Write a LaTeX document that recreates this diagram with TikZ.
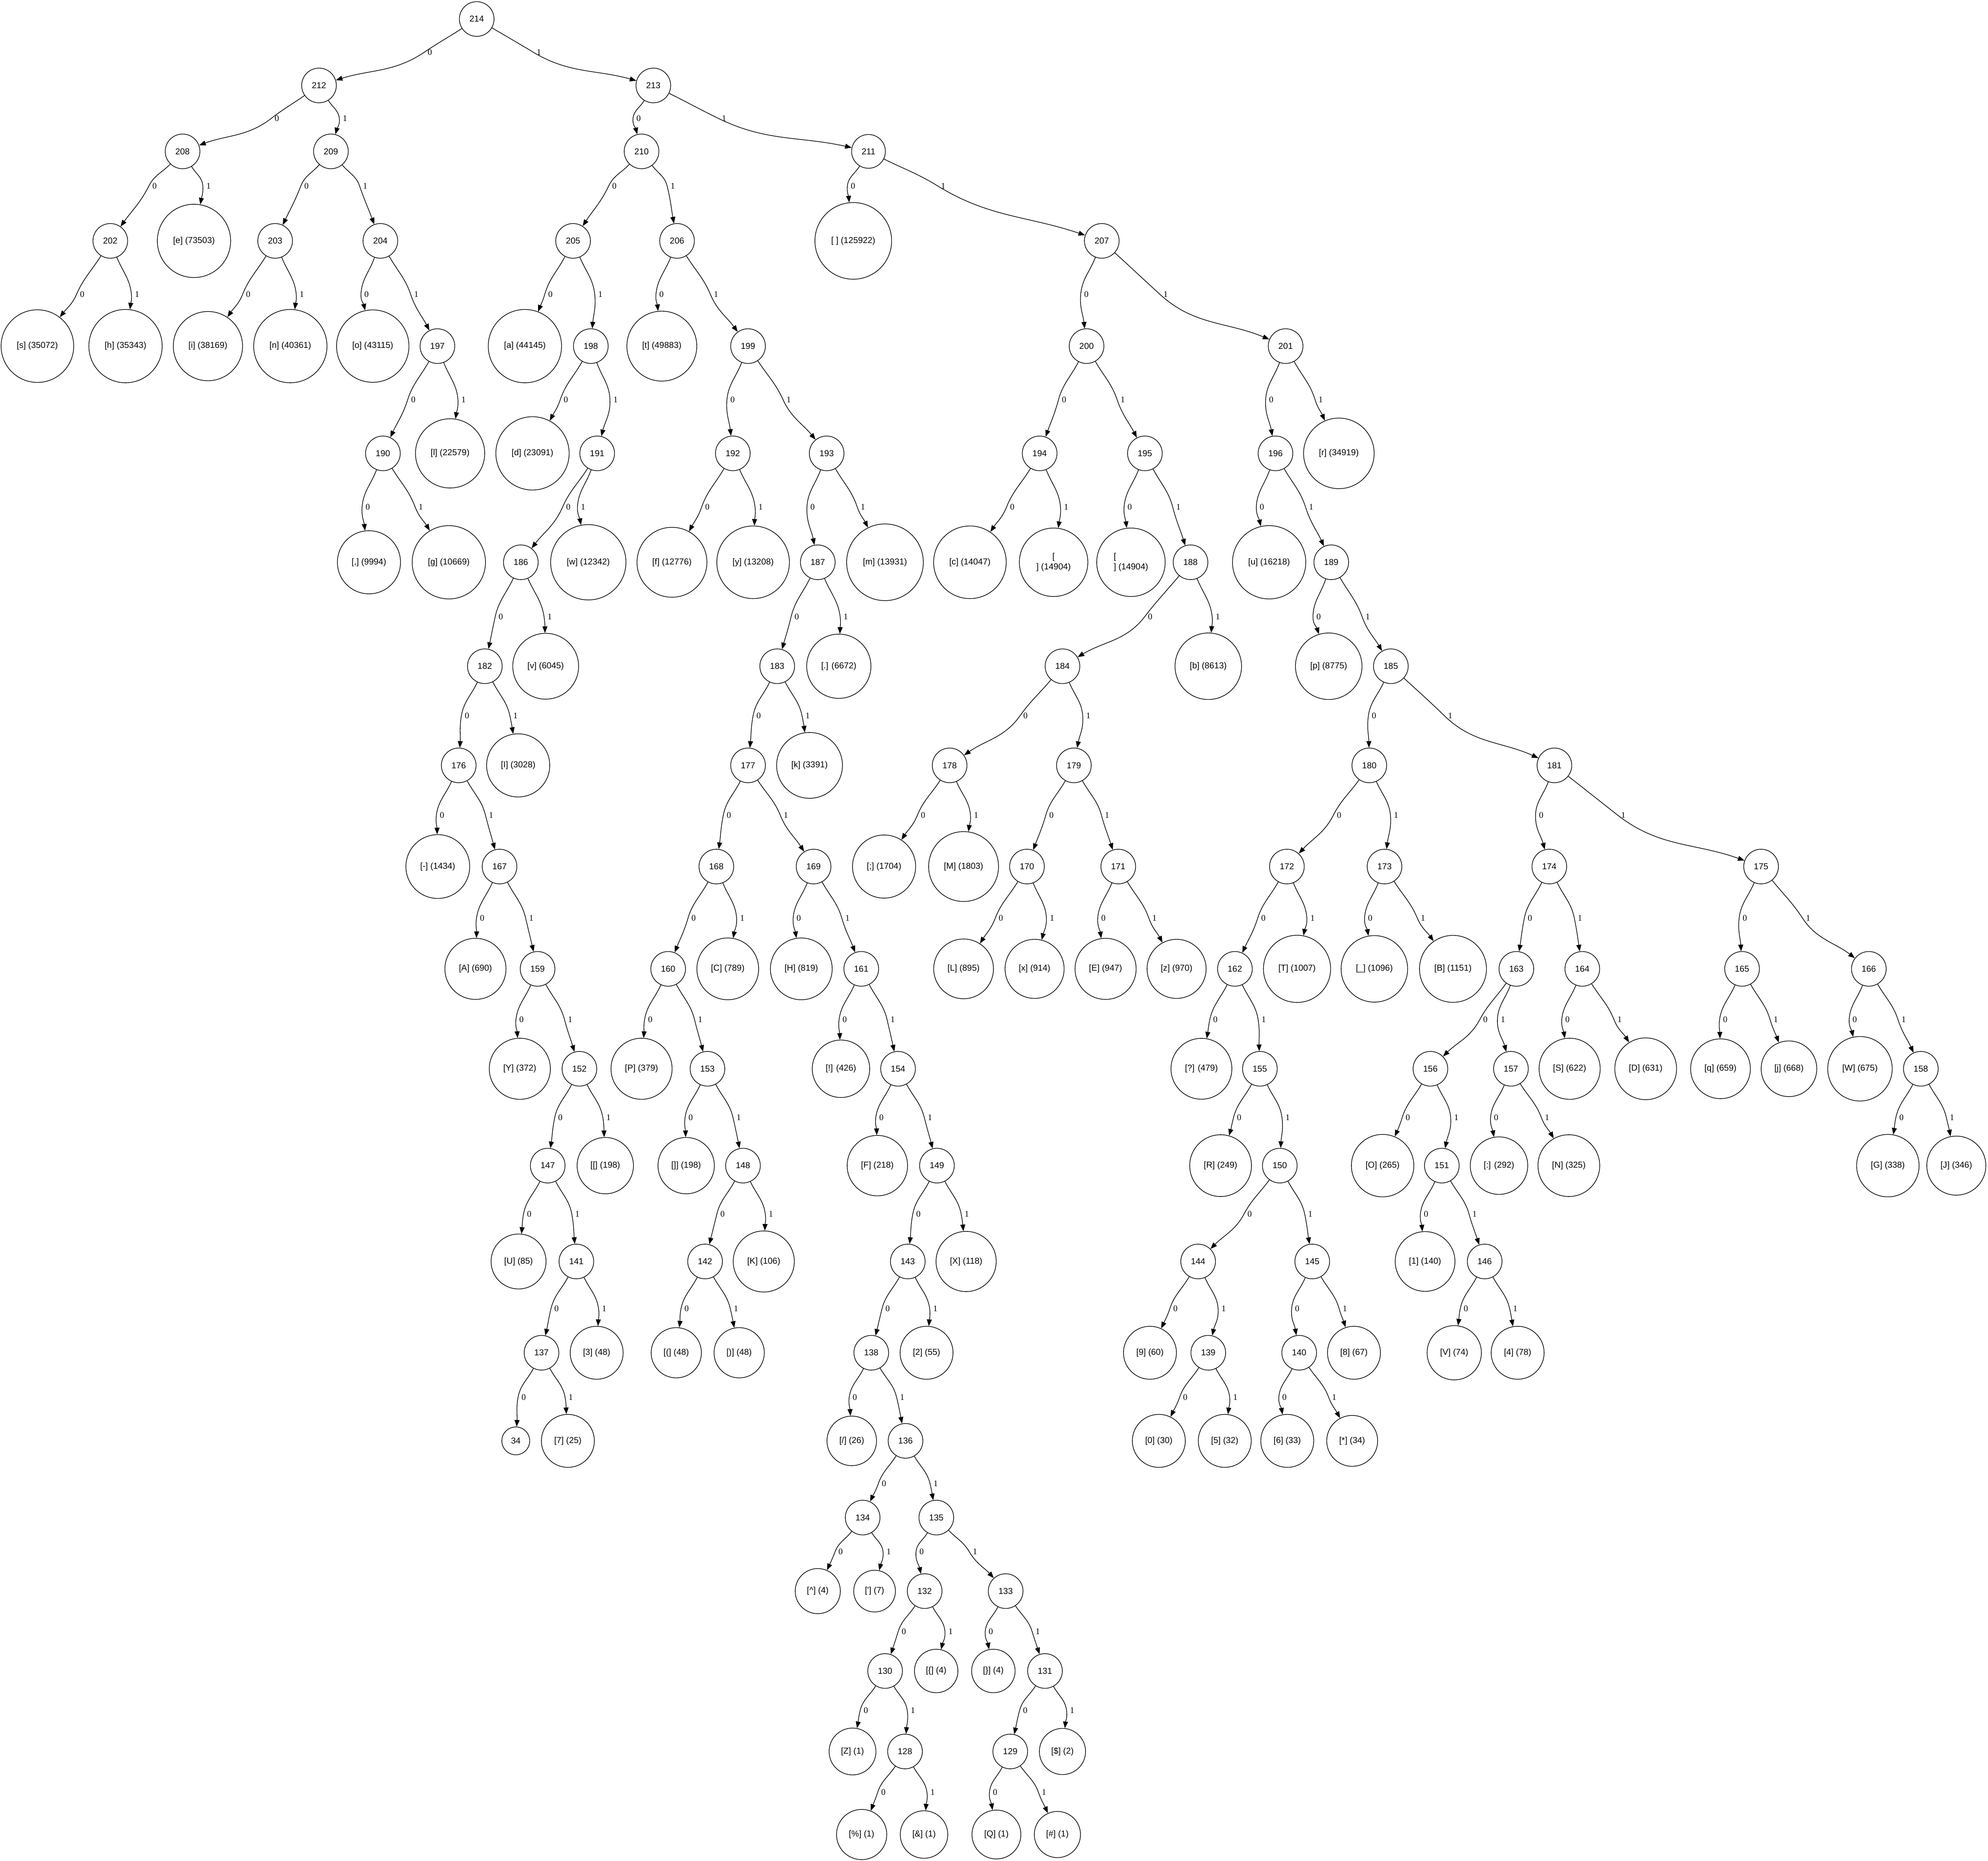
\documentclass[tikz,border=0pt]{standalone}
\usepackage{fontspec}
\usetikzlibrary{arrows.meta}
\newfontfamily\nodefont{Liberation Sans}
\newfontfamily\bitfont{Liberation Serif}
\newdimen\hpx
\newdimen\hpy
\newdimen\hcx
\newdimen\hcy
% one coded edge: parent #1, child #2, bit #3, height #4 of the label row
\newcommand\hbit[4]{%
  \pgfextractx{\hpx}{\pgfpointanchor{#1}{center}}%
  \pgfextracty{\hpy}{\pgfpointanchor{#1}{center}}%
  \pgfextractx{\hcx}{\pgfpointanchor{#2}{center}}%
  \pgfextracty{\hcy}{\pgfpointanchor{#2}{center}}%
  \pgfmathsetmacro\hbdx{\hcx-\hpx}%
  \pgfmathsetmacro\hwx{\hpx+(\hbdx<0 ? -1 : 1)*(14+0.22*abs(\hbdx))}%
  \pgfmathsetmacro\hwy{-#4}%
  \pgfmathsetmacro\hbout{atan2(\hwy-\hpy,\hwx-\hpx)}%
  \pgfmathsetmacro\hbin{atan2(\hwy-\hcy,\hwx-\hcx)}%
  \pgfmathsetmacro\hbmid{atan2(1.6*(\hcy-\hpy),\hcx-\hpx)}%
  \pgfmathsetmacro\hbback{\hbmid+180}%
  \draw[hedge] (#1) to[out=\hbout,in=\hbback] node[bit,pos=1] {#3} (\hwx pt,\hwy pt)
    to[out=\hbmid,in=\hbin] (#2);}
\newcommand\hlink[4]{\hbit{#1}{#2}{0}{#4}\hbit{#1}{#3}{1}{#4}}
\begin{document}
\begin{tikzpicture}[x=1pt, y=-1pt,
  hnode/.style={circle, draw, line width=.5pt, inner sep=0pt,
    font=\nodefont\fontsize{6.8}{8}\selectfont,
    minimum size={1.414*(\wd\pgfnodeparttextbox+8pt)}},
  bit/.style={anchor=west, inner sep=2.5pt, font=\bitfont\fontsize{6.8}{8}\selectfont},
  hedge/.style={line width=.5pt, -{Triangle[length=5.2pt,width=3.9pt]}}]
\useasboundingbox (0,0) rectangle (1568,1467.7);

\node[hnode] (n214) at (376,15) {214};

\node[hnode] (n212) at (251.6,67.4) {212};
\node[hnode] (n213) at (515.3,67.4) {213};

\node[hnode] (n208) at (144,119.4) {208};
\node[hnode] (n209) at (261,119.4) {209};
\node[hnode] (n210) at (506,119.4) {210};
\node[hnode] (n211) at (685,119.4) {211};

\node[hnode] (n202) at (87,190) {202};
\node[hnode] (le) at (153,190) {[e] (73503)};
\node[hnode] (n203) at (217,190) {203};
\node[hnode] (n204) at (300,190) {204};
\node[hnode] (n205) at (452,190) {205};
\node[hnode] (n206) at (534,190) {206};
\node[hnode] (lspace) at (673,190) {[ ] (125922)};
\node[hnode] (n207) at (869,190) {207};

\node[hnode] (ls) at (29.5,273) {[s] (35072)};
\node[hnode] (lh) at (99,273) {[h] (35343)};
\node[hnode] (li) at (164,273) {[i] (38169)};
\node[hnode] (ln) at (229,273) {[n] (40361)};
\node[hnode] (lo) at (294,273) {[o] (43115)};
\node[hnode] (n197) at (345,273) {197};
\node[hnode] (la) at (414,273) {[a] (44145)};
\node[hnode] (n198) at (466,273) {198};
\node[hnode] (lt) at (522,273) {[t] (49883)};
\node[hnode] (n199) at (590,273) {199};
\node[hnode] (n200) at (857,273) {200};
\node[hnode] (n201) at (1014,273) {201};

\node[hnode] (n190) at (302,357.6) {190};
\node[hnode] (ll) at (355,357.6) {[l] (22579)};
\node[hnode] (ld) at (420,357.6) {[d] (23091)};
\node[hnode] (n191) at (471,357.6) {191};
\node[hnode] (n192) at (578,357.6) {192};
\node[hnode] (n193) at (652,357.6) {193};
\node[hnode] (n194) at (820,357.6) {194};
\node[hnode] (n195) at (903,357.6) {195};
\node[hnode] (n196) at (1006,357.6) {196};
\node[hnode] (lr) at (1056,357.6) {[r] (34919)};

\node[hnode] (lcomma) at (291,443.5) {[,] (9994)};
\node[hnode] (lg) at (354,443.5) {[g] (10669)};
\node[hnode] (n186) at (410.8,443.5) {186};
\node[hnode] (lw) at (464,443.5) {[w] (12342)};
\node[hnode] (lf) at (530,443.5) {[f] (12776)};
\node[hnode] (ly) at (594,443.5) {[y] (13208)};
\node[hnode] (n187) at (645,443.5) {187};
\node[hnode] (lm) at (698,443.5) {[m] (13931)};
\node[hnode] (lc) at (765,443.5) {[c] (14047)};
\node[hnode, align=center, minimum size=54] (lnl) at (831,443.5) {[\\] (14904)};
\node[hnode, align=left, minimum size=54] (lcr) at (892,443.5) {[\\] (14904)};
\node[hnode] (n188) at (939,443.5) {188};
\node[hnode] (lu) at (1001,443.5) {[u] (16218)};
\node[hnode] (n189) at (1050,443.5) {189};

\node[hnode] (n182) at (382.4,525.5) {182};
\node[hnode] (lv) at (430.4,525.5) {[v] (6045)};
\node[hnode] (n183) at (613,525.5) {183};
\node[hnode] (lstop) at (661.6,525.5) {[.] (6672)};
\node[hnode] (n184) at (838,525.5) {184};
\node[hnode] (lb) at (953,525.5) {[b] (8613)};
\node[hnode] (lp) at (1048,525.5) {[p] (8775)};
\node[hnode] (n185) at (1097,525.5) {185};

\node[hnode] (n176) at (361.8,603.7) {176};
\node[hnode] (lI) at (408.7,603.7) {[I] (3028)};
\node[hnode] (n177) at (590,603.7) {177};
\node[hnode] (lk) at (638.5,603.7) {[k] (3391)};
\node[hnode] (n178) at (749,603.7) {178};
\node[hnode] (n179) at (847,603.7) {179};
\node[hnode] (n180) at (1080,603.7) {180};
\node[hnode] (n181) at (1226,603.7) {181};

\node[hnode] (ldash) at (345.3,683.5) {[-] (1434)};
\node[hnode] (n167) at (394,683.5) {167};
\node[hnode] (n168) at (565,683.5) {168};
\node[hnode] (n169) at (641.7,683.5) {169};
\node[hnode] (lsemi) at (697.3,683.5) {[;] (1704)};
\node[hnode] (lM) at (760,683.5) {[M] (1803)};
\node[hnode] (n170) at (810,683.5) {170};
\node[hnode] (n171) at (882,683.5) {171};
\node[hnode] (n172) at (1015,683.5) {172};
\node[hnode] (n173) at (1092,683.5) {173};
\node[hnode] (n174) at (1222,683.5) {174};
\node[hnode] (n175) at (1389,683.5) {175};

\node[hnode] (lA) at (375,764.2) {[A] (690)};
\node[hnode] (n159) at (424,764.2) {159};
\node[hnode] (n160) at (527,764.2) {160};
\node[hnode] (lC) at (574,764.2) {[C] (789)};
\node[hnode] (lH) at (632,764.2) {[H] (819)};
\node[hnode] (n161) at (679.3,764.2) {161};
\node[hnode] (lL) at (760,764.2) {[L] (895)};
\node[hnode] (lx) at (816,764.2) {[x] (914)};
\node[hnode] (lE) at (872,764.2) {[E] (947)};
\node[hnode] (lz) at (928,764.2) {[z] (970)};
\node[hnode] (n162) at (974,764.2) {162};
\node[hnode] (lT) at (1023,764.2) {[T] (1007)};
\node[hnode] (lunder) at (1084,764.2) {[\_] (1096)};
\node[hnode] (lB) at (1146,764.2) {[B] (1151)};
\node[hnode] (n163) at (1196,764.2) {163};
\node[hnode] (n164) at (1248,764.2) {164};
\node[hnode] (n165) at (1374,764.2) {165};
\node[hnode] (n166) at (1474,764.2) {166};

\node[hnode] (lY) at (410,843) {[Y] (372)};
\node[hnode] (n152) at (457,843) {152};
\node[hnode] (lP) at (506,843) {[P] (379)};
\node[hnode] (n153) at (558,843) {153};
\node[hnode] (lbang) at (663.3,843) {[!] (426)};
\node[hnode] (n154) at (708.3,843) {154};
\node[hnode] (lquery) at (947.6,843) {[?] (479)};
\node[hnode] (n155) at (993.7,843) {155};
\node[hnode] (n156) at (1128.2,843) {156};
\node[hnode] (n157) at (1191.7,843) {157};
\node[hnode] (lS) at (1238,843) {[S] (622)};
\node[hnode] (lD) at (1298,843) {[D] (631)};
\node[hnode] (lq) at (1357,843) {[q] (659)};
\node[hnode] (lj) at (1411,843) {[j] (668)};
\node[hnode] (lW) at (1467,843) {[W] (675)};
\node[hnode] (n158) at (1515,843) {158};

\node[hnode] (n147) at (432,919.4) {147};
\node[hnode] (lbrackl) at (477.4,919.4) {[[] (198)};
\node[hnode] (lbrackr) at (541.2,919.4) {[]] (198)};
\node[hnode] (n148) at (586,919.4) {148};
\node[hnode] (lF) at (692,919.4) {[F] (218)};
\node[hnode] (n149) at (739,919.4) {149};
\node[hnode] (lR) at (962.7,919.4) {[R] (249)};
\node[hnode] (n150) at (1009.4,919.4) {150};
\node[hnode] (lO) at (1090.5,919.4) {[O] (265)};
\node[hnode] (n151) at (1137.2,919.4) {151};
\node[hnode] (lcolon) at (1182.3,919.4) {[:] (292)};
\node[hnode] (lN) at (1237.4,919.4) {[N] (325)};
\node[hnode] (lG) at (1489,919.4) {[G] (338)};
\node[hnode] (lJ) at (1543,919.4) {[J] (346)};

\node[hnode] (lU) at (409,995) {[U] (85)};
\node[hnode] (n141) at (454.6,995) {141};
\node[hnode] (n142) at (556.1,995) {142};
\node[hnode] (lK) at (602.4,995) {[K] (106)};
\node[hnode] (n143) at (716,995) {143};
\node[hnode] (lX) at (762,995) {[X] (118)};
\node[hnode] (n144) at (945,995) {144};
\node[hnode] (n145) at (1035,995) {145};
\node[hnode] (l1) at (1124,995) {[1] (140)};
\node[hnode] (n146) at (1171,995) {146};

\node[hnode] (n137) at (427.1,1067) {137};
\node[hnode] (l3) at (470.6,1067) {[3] (48)};
\node[hnode] (lparl) at (533.4,1067) {[(] (48)};
\node[hnode] (lparr) at (583,1067) {[)] (48)};
\node[hnode] (n138) at (687.2,1067) {138};
\node[hnode] (l2) at (730.8,1067) {[2] (55)};
\node[hnode] (l9) at (907,1067) {[9] (60)};
\node[hnode] (n139) at (953,1067) {139};
\node[hnode] (n140) at (1024.7,1067) {140};
\node[hnode] (l8) at (1067.9,1067) {[8] (67)};
\node[hnode] (lV) at (1147,1067) {[V] (74)};
\node[hnode] (l4) at (1197,1067) {[4] (78)};

\node[hnode] (lq34) at (406.8,1136.5) {34};
\node[hnode] (l7) at (447.9,1136.5) {[7] (25)};
\node[hnode] (lslash) at (671.8,1136.5) {[/] (26)};
\node[hnode] (n136) at (714.2,1136.5) {136};
\node[hnode] (l0) at (914,1136.5) {[0] (30)};
\node[hnode] (l5) at (966,1136.5) {[5] (32)};
\node[hnode] (l6) at (1015.3,1136.5) {[6] (33)};
\node[hnode] (lstar) at (1066.5,1136.5) {[*] (34)};

\node[hnode] (n134) at (680.4,1197) {134};
\node[hnode] (n135) at (738.5,1197) {135};

\node[hnode] (lcaret) at (645,1255) {[\textasciicircum] (4)};
\node[hnode] (lquote) at (689.8,1255) {[\textquotesingle] (7)};
\node[hnode] (n132) at (729.3,1255) {132};
\node[hnode] (n133) at (793.2,1255) {133};

\node[hnode] (n130) at (698.1,1318) {130};
\node[hnode] (lbracel) at (738.4,1318) {[\{] (4)};
\node[hnode] (lbracer) at (783.5,1318) {[\}] (4)};
\node[hnode] (n131) at (824.2,1318) {131};

\node[hnode] (lZ) at (672.4,1381.5) {[Z] (1)};
\node[hnode] (n128) at (713.8,1381.5) {128};
\node[hnode] (n129) at (796.8,1381.5) {129};
\node[hnode] (ldollar) at (838,1381.5) {[\$] (2)};

\node[hnode] (lpercent) at (679.6,1447) {[\%] (1)};
\node[hnode] (lamp) at (728.8,1447) {[\&] (1)};
\node[hnode] (lQ) at (785.9,1447) {[Q] (1)};
\node[hnode] (lhash) at (834,1447) {[\#] (1)};

% edges: 0 to the left child, 1 to the right child, last value = label row
\hlink{n214}{n212}{n213}{41.2}
\hlink{n212}{n208}{n209}{93.4}
\hlink{n213}{n210}{n211}{93.4}
\hlink{n208}{n202}{le}{146.6}
\hlink{n209}{n203}{n204}{146.6}
\hlink{n210}{n205}{n206}{146.6}
\hlink{n211}{lspace}{n207}{146.6}
\hlink{n202}{ls}{lh}{232.2}
\hlink{n203}{li}{ln}{232.2}
\hlink{n204}{lo}{n197}{232.2}
\hlink{n205}{la}{n198}{232.2}
\hlink{n206}{lt}{n199}{232.2}
\hlink{n207}{n200}{n201}{232.2}
\hlink{n197}{n190}{ll}{315.3}
\hlink{n198}{ld}{n191}{315.3}
\hlink{n199}{n192}{n193}{315.3}
\hlink{n200}{n194}{n195}{315.3}
\hlink{n201}{n196}{lr}{315.3}
\hlink{n190}{lcomma}{lg}{399.9}
\hlink{n191}{n186}{lw}{399.9}
\hlink{n192}{lf}{ly}{399.9}
\hlink{n193}{n187}{lm}{399.9}
\hlink{n194}{lc}{lnl}{399.9}
\hlink{n195}{lcr}{n188}{399.9}
\hlink{n196}{lu}{n189}{399.9}
\hlink{n186}{n182}{lv}{486.5}
\hlink{n187}{n183}{lstop}{486.5}
\hlink{n188}{n184}{lb}{486.5}
\hlink{n189}{lp}{n185}{486.5}
\hlink{n182}{n176}{lI}{564.7}
\hlink{n183}{n177}{lk}{564.7}
\hlink{n184}{n178}{n179}{564.7}
\hlink{n185}{n180}{n181}{564.7}
\hlink{n176}{ldash}{n167}{642.9}
\hlink{n177}{n168}{n169}{642.9}
\hlink{n178}{lsemi}{lM}{642.9}
\hlink{n179}{n170}{n171}{642.9}
\hlink{n180}{n172}{n173}{642.9}
\hlink{n181}{n174}{n175}{642.9}
\hlink{n167}{lA}{n159}{724.2}
\hlink{n168}{n160}{lC}{724.2}
\hlink{n169}{lH}{n161}{724.2}
\hlink{n170}{lL}{lx}{724.2}
\hlink{n171}{lE}{lz}{724.2}
\hlink{n172}{n162}{lT}{724.2}
\hlink{n173}{lunder}{lB}{724.2}
\hlink{n174}{n163}{n164}{724.2}
\hlink{n175}{n165}{n166}{724.2}
\hlink{n159}{lY}{n152}{804.3}
\hlink{n160}{lP}{n153}{804.3}
\hlink{n161}{lbang}{n154}{804.3}
\hlink{n162}{lquery}{n155}{804.3}
\hlink{n163}{n156}{n157}{804.3}
\hlink{n164}{lS}{lD}{804.3}
\hlink{n165}{lq}{lj}{804.3}
\hlink{n166}{lW}{n158}{804.3}
\hlink{n152}{n147}{lbrackl}{881.6}
\hlink{n153}{lbrackr}{n148}{881.6}
\hlink{n154}{lF}{n149}{881.6}
\hlink{n155}{lR}{n150}{881.6}
\hlink{n156}{lO}{n151}{881.6}
\hlink{n157}{lcolon}{lN}{881.6}
\hlink{n158}{lG}{lJ}{881.6}
\hlink{n147}{lU}{n141}{957.5}
\hlink{n148}{n142}{lK}{957.5}
\hlink{n149}{n143}{lX}{957.5}
\hlink{n150}{n144}{n145}{957.5}
\hlink{n151}{l1}{n146}{957.5}
\hlink{n141}{n137}{l3}{1032.3}
\hlink{n142}{lparl}{lparr}{1032.3}
\hlink{n143}{n138}{l2}{1032.3}
\hlink{n144}{l9}{n139}{1032.3}
\hlink{n145}{n140}{l8}{1032.3}
\hlink{n146}{lV}{l4}{1032.3}
\hlink{n137}{lq34}{l7}{1102}
\hlink{n138}{lslash}{n136}{1102}
\hlink{n139}{l0}{l5}{1102}
\hlink{n140}{l6}{lstar}{1102}
\hlink{n136}{n134}{n135}{1170.2}
\hlink{n134}{lcaret}{lquote}{1224}
\hlink{n135}{n132}{n133}{1224}
\hlink{n132}{n130}{lbracel}{1286.8}
\hlink{n133}{lbracer}{n131}{1286.8}
\hlink{n130}{lZ}{n128}{1349.1}
\hlink{n131}{n129}{ldollar}{1349.1}
\hlink{n128}{lpercent}{lamp}{1413.6}
\hlink{n129}{lQ}{lhash}{1413.6}
\end{tikzpicture}
\end{document}
